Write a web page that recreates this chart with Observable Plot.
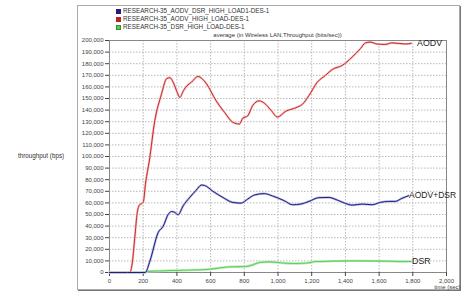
<!DOCTYPE html>
<html><head><meta charset="utf-8">
<script src="https://cdn.jsdelivr.net/npm/d3@7"></script>
<script src="https://cdn.jsdelivr.net/npm/@observablehq/plot@0.6"></script>
<style>
body{margin:0;background:#fff;font-family:"Liberation Sans",Arial,sans-serif;}
#wrap{position:relative;width:463px;height:294px;overflow:hidden;}
#box{position:absolute;left:77px;top:5px;width:381px;height:283px;border:1px solid #aaa;box-shadow:1px 1px 0 #777;}
#legend{position:absolute;left:116px;top:7px;font-size:6.3px;color:#333;line-height:8px;white-space:nowrap;}
.sw{display:inline-block;width:5px;height:5px;margin-right:2px;vertical-align:-0.5px;box-sizing:border-box;}
#title{position:absolute;left:109px;width:337px;top:32px;text-align:center;font-size:6px;color:#333;white-space:nowrap;}
#ylab{position:absolute;left:18px;top:152px;font-size:6.3px;color:#333;white-space:nowrap;}
#chart{position:absolute;left:0;top:0;}
</style></head>
<body>
<div id="wrap">
  <div id="box"></div>
  <div id="legend"></div>
  <div id="title"></div>
  <div id="ylab"></div>
  <div id="chart"></div>
</div>
<script>
// ---- data ----
const seriesNames = ["RESEARCH-35_AODV_DSR_HIGH_LOAD1-DES-1", "RESEARCH-35_AODV_HIGH_LOAD-DES-1", "RESEARCH-35_DSR_HIGH_LOAD-DES-1"];
const seriesColors = ["#1f1f80", "#b52525", "#5cc85c"];
const lineLabels = ["AODV+DSR", "AODV", "DSR"];
const chartTitle = "average (in Wireless LAN.Throughput (bits/sec))";
const yLabel = "throughput (bps)";
const xLabel = "time (sec)";

const aodvT = [0,120,135,150,165,177,200,215,236,269,309,338,358,378,400,417,440,460,486,525,550,574,633,683,732,771,791,820,850,889,919,958,997,1046,1105,1145,1184,1233,1282,1322,1381,1440,1489,1519,1548,1587,1637,1676,1755,1790];
const aodvV = [0,0,8000,30000,52000,58000,60500,78000,96000,131000,154000,167000,168000,164000,156000,151000,157000,161000,164000,169000,167000,163000,148000,138000,129500,128000,133000,135000,144000,148000,146000,140000,134000,139000,142000,145000,152600,164000,170000,175000,178500,185700,193000,198000,198600,197000,196600,198000,197000,197500];

const aodvDsrT = [0,212,240,289,319,348,368,388,407,437,476,515,545,565,614,673,732,781,820,860,919,968,1037,1086,1135,1184,1243,1302,1351,1401,1440,1499,1558,1607,1656,1696,1735,1775];
const aodvDsrV = [0,0,10000,34500,40000,50000,52600,51800,49800,57500,64700,71000,75400,75000,70000,64700,60400,59800,63300,66800,68000,66000,61900,58400,59000,61300,64500,64700,62500,59500,58100,59000,58400,60400,61300,61300,63900,66200];

const dsrT = [0,210,230,437,594,673,732,810,850,889,948,1046,1125,1184,1223,1322,1440,1617,1755,1790];
const dsrV = [0,0,1000,2000,2800,4300,4900,5200,6600,8600,9200,8000,7800,8400,9500,9800,10000,9800,9500,9500];

const xTicks = [0,200,400,600,800,1000,1200,1400,1600,1800,2000];
const yTicks = [0,10000,20000,30000,40000,50000,60000,70000,80000,90000,100000,110000,120000,130000,140000,150000,160000,170000,180000,190000,200000];

// ---- build ----
const toRows = (T, V) => T.map((t, i) => ({t, v: V[i]}));
const aodv = toRows(aodvT, aodvV);
const aodvDsr = toRows(aodvDsrT, aodvDsrV);
const dsr = toRows(dsrT, dsrV);

const lg = document.getElementById("legend");
seriesNames.forEach((n, i) => {
  const row = document.createElement("div");
  const sw = document.createElement("span");
  sw.className = "sw";
  sw.style.background = seriesColors[i];
  if (i === 2) sw.style.border = "1px solid #3a8a3a";
  row.appendChild(sw);
  row.appendChild(document.createTextNode(n));
  lg.appendChild(row);
});
document.getElementById("title").textContent = chartTitle;
document.getElementById("ylab").textContent = yLabel;

const fmt = d3.format(",");
const last = a => [a[a.length - 1]];

const chart = Plot.plot({
  width: 463,
  height: 294,
  marginLeft: 109,
  marginRight: 17,
  marginTop: 40,
  marginBottom: 22,
  style: {fontSize: "6px", fontFamily: "Liberation Sans, Arial, sans-serif", color: "#444", background: "transparent", overflow: "visible"},
  x: {domain: [0, 2000]},
  y: {domain: [0, 200000]},
  marks: [
    Plot.gridX(xTicks, {stroke: "#b8b8b8", strokeOpacity: 1, strokeDasharray: "1.5,1.5"}),
    Plot.gridY(yTicks, {stroke: "#b8b8b8", strokeOpacity: 1, strokeDasharray: "1.5,1.5"}),
    Plot.frame({stroke: "#888"}),
    Plot.axisY({ticks: yTicks, tickFormat: fmt, tickSize: 4, tickPadding: 2, label: null}),
    Plot.axisX({ticks: xTicks, tickFormat: fmt, tickSize: 4, tickPadding: 2, label: xLabel, labelAnchor: "right", labelArrow: "none", labelOffset: 16}),
    Plot.line(dsr, {x: "t", y: "v", stroke: "#b5ecb5", strokeWidth: 2.4, curve: "monotone-x"}),
    Plot.line(dsr, {x: "t", y: "v", stroke: "#66cc66", strokeWidth: 1.1, curve: "monotone-x"}),
    Plot.line(aodv, {x: "t", y: "v", stroke: "#f4bcbc", strokeWidth: 2.2, curve: "monotone-x"}),
    Plot.line(aodv, {x: "t", y: "v", stroke: "#c42a2a", strokeWidth: 1, curve: "monotone-x"}),
    Plot.line(aodvDsr, {x: "t", y: "v", stroke: "#b4b4e0", strokeWidth: 2.2, curve: "monotone-x"}),
    Plot.line(aodvDsr, {x: "t", y: "v", stroke: seriesColors[0], strokeWidth: 1, curve: "monotone-x"}),
    Plot.text(last(aodv), {x: "t", y: "v", text: () => lineLabels[1], textAnchor: "start", dx: 6, fontSize: 8.8, fill: "#222"}),
    Plot.text(last(aodvDsr), {x: "t", y: "v", text: () => lineLabels[0], textAnchor: "start", dx: 0.5, fontSize: 8.5, fill: "#222"}),
    Plot.text(last(dsr), {x: "t", y: "v", text: () => lineLabels[2], textAnchor: "start", dx: 1, fontSize: 8.8, fill: "#222"})
  ]
});
document.getElementById("chart").appendChild(chart);
</script>
</body></html>
